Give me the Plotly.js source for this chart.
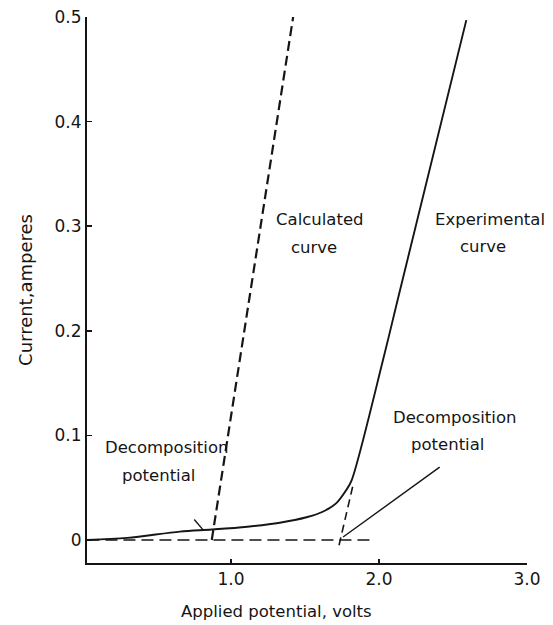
<!DOCTYPE html>
<html>
<head>
<meta charset="utf-8">
<script src="https://cdn.plot.ly/plotly-3.0.1.min.js"></script>
<style>html,body{margin:0;padding:0;background:#fff;}#chart{width:553px;height:625px;}</style>
</head>
<body>
<div id="chart"></div>
<script>
// Experimental curve (applied potential in volts, current in amperes)
const expVolts   = [0.03, 0.30, 0.655, 0.87, 1.11, 1.33, 1.51, 1.62, 1.71, 1.78, 1.815, 2.027, 2.125, 2.59];
const expAmps    = [0.000, 0.002, 0.008, 0.010, 0.0127, 0.0165, 0.0217, 0.027, 0.035, 0.048, 0.057, 0.172, 0.229, 0.497];
// Calculated curve
const calcVolts  = [0.87, 1.42];
const calcAmps   = [0.000, 0.500];
// Zero-current baseline (dashed)
const baseVolts  = [0.03, 1.97];
const baseAmps   = [0, 0];
// Extrapolation of the experimental curve to zero current
const extVolts   = [1.73, 1.822];
const extAmps    = [-0.005, 0.051];
// Decomposition potentials
const decompCalc = 0.87;
const decompExp  = 1.73;
// Tick labels
const xTickVals  = [1, 2, 3];
const xTickText  = ['1.0', '2.0', '3.0'];
const yTickVals  = [0, 0.1, 0.2, 0.3, 0.4, 0.5];
const yTickText  = ['0', '0.1', '0.2', '0.3', '0.4', '0.5'];

const ink = '#151515';
const FONT = 'DejaVu Sans, sans-serif';

const traces = [
  {x: baseVolts, y: baseAmps, mode: 'lines', line: {color: ink, width: 1.6, dash: '12px,6px'}, hoverinfo: 'skip'},
  {x: extVolts, y: extAmps, mode: 'lines', line: {color: ink, width: 1.6, dash: '8px,5px'}, hoverinfo: 'skip'},
  {x: calcVolts, y: calcAmps, mode: 'lines', name: 'Calculated curve', line: {color: ink, width: 2.2, dash: '10px,5px'}},
  {x: expVolts, y: expAmps, mode: 'lines', name: 'Experimental curve', line: {color: ink, width: 1.9, shape: 'spline', smoothing: 0.9}}
];

const txt = (t, x, y) => ({text: t, x: x, y: y, xref: 'x', yref: 'y', showarrow: false,
  font: {family: FONT, size: 16.5, color: ink}, xanchor: 'center', yanchor: 'middle'});

const annotations = [
  txt('Calculated', 1.601, 0.306),
  txt('curve', 1.561, 0.280),
  txt('Experimental', 2.75, 0.306),
  txt('curve', 2.70, 0.281),
  txt('Decomposition', 0.565, 0.088),
  txt('potential', 0.507, 0.062),
  txt('Decomposition', 2.51, 0.117),
  txt('potential', 2.46, 0.091),
  {x: decompCalc, y: 0, ax: 0.743, ay: 0.021, xref: 'x', yref: 'y', axref: 'x', ayref: 'y',
   text: '', showarrow: true, arrowhead: 0, arrowwidth: 1.4, arrowcolor: ink, standoff: 13},
  {x: decompExp, y: 0, ax: 2.42, ay: 0.0707, xref: 'x', yref: 'y', axref: 'x', ayref: 'y',
   text: '', showarrow: true, arrowhead: 0, arrowwidth: 1.4, arrowcolor: ink, standoff: 5},
  {text: 'Applied potential, volts', xref: 'paper', yref: 'paper', x: 0.43, y: -0.088,
   showarrow: false, xanchor: 'center', yanchor: 'middle', font: {family: FONT, size: 16.5, color: ink}}
];

const layout = {
  width: 553, height: 625,
  margin: {l: 87, r: 26, t: 17, b: 62},
  paper_bgcolor: '#fff', plot_bgcolor: '#fff',
  showlegend: false,
  font: {family: FONT, color: ink},
  xaxis: {
    range: [0.027, 3.0], showgrid: false, zeroline: false,
    showline: true, linecolor: ink, linewidth: 2,
    ticks: 'inside', ticklen: 4, tickwidth: 1.5, tickcolor: ink,
    tickvals: xTickVals, ticktext: xTickText,
    tickfont: {family: FONT, size: 17, color: ink}
  },
  yaxis: {
    range: [-0.022, 0.5], showgrid: false, zeroline: false,
    showline: true, linecolor: ink, linewidth: 2,
    ticks: 'inside', ticklen: 5, tickwidth: 1.5, tickcolor: ink,
    tickvals: yTickVals, ticktext: yTickText,
    tickfont: {family: FONT, size: 17, color: ink},
    title: {text: 'Current,amperes', font: {family: FONT, size: 18, color: ink}, standoff: 17}
  },
  annotations: annotations
};

Plotly.newPlot('chart', traces, layout, {staticPlot: true, displayModeBar: false});
</script>
</body>
</html>
